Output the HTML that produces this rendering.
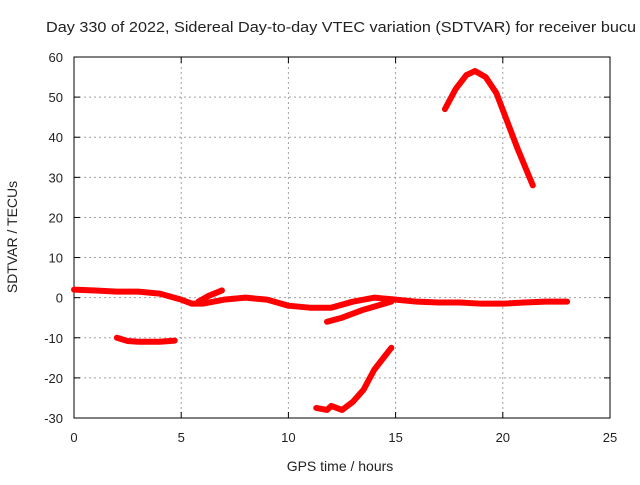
<!DOCTYPE html>
<html><head><meta charset="utf-8"><style>
body{margin:0;background:#fff;}
svg text{font-family:"Liberation Sans",sans-serif;font-size:13px;fill:#222;}
</style></head><body>
<svg width="640" height="480">
<rect width="640" height="480" fill="#fff"/>
<text x="46" y="32" textLength="590" lengthAdjust="spacingAndGlyphs" style="font-size:15px">Day 330 of 2022, Sidereal Day-to-day VTEC variation (SDTVAR) for receiver bucu</text>
<g id="grid"></g>
<rect x="74" y="57" width="536" height="361" fill="none" stroke="#000" stroke-width="1"/>
<g id="ticks"></g>
<g id="series"></g>
<text x="340" y="471" text-anchor="middle" style="font-size:14px">GPS time / hours</text>
<text transform="translate(17,237) rotate(-90)" text-anchor="middle" style="font-size:14px">SDTVAR / TECUs</text>
</svg>
<script>
const xTicks=[0,5,10,15,20,25];
const yTicks=[-30,-20,-10,0,10,20,30,40,50,60];
const sA_t=[0,1,2,3,4,5,5.5,6,7,8,9,10,11,12,13,14,15,16,17,18,19,20,21,22,23];
const sA_v=[2,1.8,1.5,1.5,1,-0.5,-1.5,-1.5,-0.5,0,-0.5,-2,-2.5,-2.5,-1,0,-0.5,-1,-1.2,-1.2,-1.5,-1.5,-1.2,-1,-1];
const sB_t=[5.8,6.3,6.9];
const sB_v=[-1,0.5,1.8];
const sC_t=[2,2.5,3,4,4.7];
const sC_v=[-10,-10.8,-11,-11,-10.7];
const sD_t=[11.8,12.5,13.5,14.8];
const sD_v=[-6,-5,-3,-1];
const sE_t=[11.3,11.8,12,12.5,13,13.5,14,14.8];
const sE_v=[-27.5,-28,-27,-28,-26,-23,-18,-12.5];
const sF_t=[17.3,17.8,18.3,18.7,19.2,19.7,20.2,20.7,21.4];
const sF_v=[47,52,55.5,56.5,55,51,44,37,28];
const X=t=>74+t*(536/25);
const Y=v=>418-(v+30)*(361/90);
const NS="http://www.w3.org/2000/svg";
const g=document.getElementById('grid'),tk=document.getElementById('ticks'),sg=document.getElementById('series');
function mk(tag,at,p){const e=document.createElementNS(NS,tag);for(const k in at)e.setAttribute(k,at[k]);p.appendChild(e);return e;}
xTicks.forEach(t=>{const x=X(t);
 if(t>0&&t<25){const l=mk('line',{x1:x,x2:x,y1:57,y2:418,stroke:'#a0a0a0','stroke-dasharray':'2,3'},g);
 
 }
 mk('line',{x1:x,x2:x,y1:418,y2:412,stroke:'#000'},tk);mk('line',{x1:x,x2:x,y1:57,y2:63,stroke:'#000'},tk);
 const tx=mk('text',{x:x,y:442,'text-anchor':'middle'},tk);tx.textContent=t;
 
 });
yTicks.forEach(v=>{const y=Y(v);
 if(v>-30&&v<60){const l=mk('line',{x1:74,x2:610,y1:y,y2:y,stroke:'#a0a0a0','stroke-dasharray':'2,3'},g);
 
 }
 mk('line',{x1:74,x2:80,y1:y,y2:y,stroke:'#000'},tk);mk('line',{x1:610,x2:604,y1:y,y2:y,stroke:'#000'},tk);
 const tx=mk('text',{x:63,y:y+5,'text-anchor':'end'},tk);tx.textContent=v;
 
 });
[[sA_t,sA_v],[sB_t,sB_v],[sC_t,sC_v],[sD_t,sD_v],[sE_t,sE_v],[sF_t,sF_v]].forEach(([ts,vs])=>{
 const p=mk('polyline',{points:ts.map((t,i)=>X(t)+','+Y(vs[i])).join(' '),fill:'none',stroke:'#ff0000','stroke-width':6,'stroke-linejoin':'round','stroke-linecap':'round'},sg);
 
 });
</script>
</body></html>
